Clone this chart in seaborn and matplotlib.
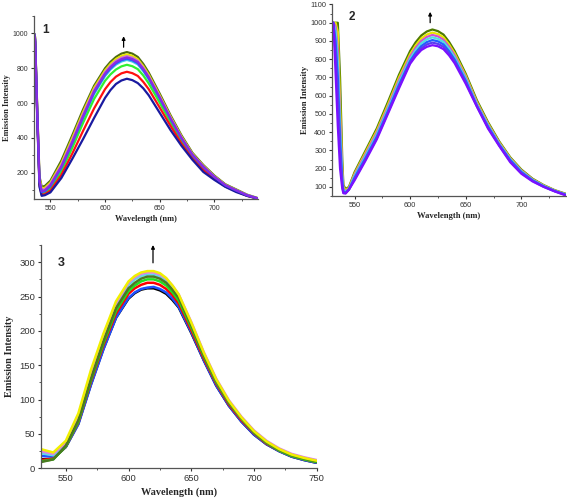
import matplotlib
matplotlib.use("Agg")
import matplotlib.pyplot as plt
import seaborn as sns
import pandas as pd
from matplotlib.ticker import MultipleLocator

# ---- panel 1 data ----
p1_wl = [535, 536, 538, 540, 542, 545, 550, 560, 570, 580, 590, 600, 605, 610, 615, 620,
         625, 630, 635, 640, 650, 660, 670, 680, 690, 700, 710, 720, 730, 740]
p1_olive = [1000, 980, 560, 180, 120, 125, 155, 270, 415, 565, 700, 800, 837, 865, 884, 893, 884, 865, 825, 775, 655, 530, 415, 315, 245, 185, 135, 105, 75, 55]
p1_yellow = [1000, 975, 550, 170, 110, 115, 145, 255, 400, 550, 688, 788, 825, 853, 871, 880, 871, 852, 812, 763, 645, 522, 408, 310, 240, 181, 132, 102, 73, 54]
p1_pink = [1000, 970, 545, 160, 102, 107, 137, 245, 388, 538, 677, 778, 815, 843, 861, 870, 861, 843, 804, 755, 638, 516, 403, 306, 237, 179, 130, 100, 72, 53]
p1_violet = [1000, 970, 540, 155, 95, 100, 130, 237, 378, 528, 668, 770, 807, 835, 853, 862, 853, 836, 797, 749, 634, 513, 401, 305, 236, 178, 130, 100, 72, 53]
p1_blue = [1000, 965, 535, 150, 90, 95, 124, 230, 370, 520, 660, 763, 800, 828, 846, 855, 846, 829, 790, 742, 628, 508, 397, 302, 233, 176, 128, 99, 71, 53]
p1_cyan = [1000, 965, 530, 145, 85, 90, 118, 222, 362, 512, 652, 755, 793, 821, 839, 848, 839, 822, 784, 736, 622, 504, 393, 299, 231, 174, 127, 98, 70, 52]
p1_green = [1000, 960, 525, 140, 80, 84, 110, 208, 343, 488, 624, 728, 765, 793, 811, 820, 812, 795, 759, 713, 603, 489, 382, 291, 224, 170, 124, 96, 69, 52]
p1_red = [1000, 955, 515, 130, 74, 78, 98, 188, 310, 442, 570, 680, 721, 752, 771, 780, 772, 756, 722, 680, 575, 469, 368, 282, 216, 166, 122, 94, 68, 52]
p1_navy = [1000, 950, 500, 120, 68, 72, 88, 170, 280, 395, 515, 630, 675, 710, 730, 740, 732, 715, 685, 645, 545, 445, 355, 275, 205, 160, 120, 90, 68, 52]

# ---- panel 2 data ----
p2_wl = [530, 531, 533, 535, 537, 539, 540, 542, 545, 550, 560, 570, 580, 590, 600, 605,
         610, 615, 620, 625, 630, 635, 640, 650, 660, 670, 680, 690, 700, 710, 720, 730, 740]
p2_olive = [1000, 1000, 1000, 1000, 700, 250, 110, 88, 100, 180, 300, 420, 565, 715, 845, 893, 930, 952, 963, 954, 935, 895, 845, 720, 575, 455, 350, 262, 195, 145, 110, 82, 62]
p2_yellow = [1000, 1000, 1000, 950, 560, 200, 100, 82, 95, 172, 290, 408, 550, 700, 828, 876, 914, 935, 946, 938, 920, 881, 832, 710, 566, 448, 345, 258, 191, 142, 108, 80, 60]
p2_magenta = [1000, 1000, 980, 850, 480, 170, 90, 76, 90, 165, 280, 397, 537, 686, 815, 863, 900, 922, 933, 925, 907, 869, 821, 701, 559, 442, 340, 254, 188, 140, 106, 79, 59]
p2_cyan = [1000, 1000, 950, 780, 420, 150, 82, 72, 88, 158, 270, 386, 526, 673, 802, 850, 887, 909, 920, 912, 895, 857, 810, 692, 552, 437, 336, 251, 185, 138, 105, 78, 58]
p2_blue = [1000, 1000, 900, 700, 360, 130, 75, 68, 86, 150, 260, 375, 515, 660, 790, 836, 872, 894, 905, 898, 881, 844, 798, 682, 545, 431, 332, 247, 181, 136, 103, 77, 57]
p2_violet = [1000, 1000, 820, 600, 300, 115, 68, 65, 85, 142, 252, 367, 507, 650, 782, 826, 860, 881, 891, 884, 868, 833, 788, 673, 542, 425, 328, 240, 176, 133, 101, 76, 55]
p2_purple = [1000, 1000, 720, 430, 200, 90, 65, 64, 85, 135, 245, 360, 500, 640, 775, 817, 850, 868, 877, 871, 855, 821, 778, 665, 540, 420, 325, 235, 172, 130, 100, 75, 53]

# ---- panel 3 data ----
p3_wl = [530, 540, 550, 560, 570, 580, 590, 600, 605, 610, 615, 620, 625, 630, 635, 640,
         650, 660, 670, 680, 690, 700, 710, 720, 730, 740, 750]
p3_yellow = [28, 23, 40, 80, 143, 196, 243, 272, 280, 285, 287, 287, 284, 277, 266, 253, 212, 168, 129, 98, 74, 54, 39, 28, 20, 15, 11]
p3_pink = [25, 21, 37, 77, 139, 193, 240, 270, 278, 283, 285, 285, 282, 276, 266, 253, 213, 169, 130, 99, 75, 55, 40, 29, 21, 16, 12]
p3_cyan = [22, 19, 35, 75, 137, 190, 238, 267, 275, 280, 282, 282, 279, 273, 263, 250, 210, 167, 128, 97, 73, 54, 39, 28, 20, 15, 11]
p3_olive = [9, 13, 33, 70, 130, 185, 233, 262, 270, 276, 279, 279, 276, 270, 260, 248, 208, 165, 127, 96, 73, 53, 38, 27, 19, 14, 10]
p3_green = [10, 13, 32, 68, 128, 182, 229, 258, 266, 272, 275, 275, 272, 266, 256, 244, 205, 163, 125, 95, 72, 52, 37, 26, 18, 13, 9]
p3_red = [12, 14, 32, 67, 126, 179, 225, 254, 262, 267, 270, 270, 267, 261, 252, 240, 201, 160, 123, 93, 70, 51, 36, 26, 18, 13, 9]
p3_black = [13, 14, 31, 65, 122, 174, 219, 247, 255, 260, 262, 262, 259, 254, 245, 234, 197, 157, 120, 91, 68, 49, 35, 25, 17, 12, 8]
p3_blue = [18, 17, 31, 64, 121, 173, 219, 248, 256, 261, 263, 264, 261, 256, 247, 235, 198, 157, 120, 91, 68, 49, 35, 25, 17, 12, 8]

sns.set_style("ticks")
plt.rcParams["font.family"] = ["Liberation Sans", "DejaVu Sans"]


def to_long(wl, series):
    rows = []
    for name, vals in series.items():
        for w, v in zip(wl, vals):
            rows.append({"wl": w, "I": v, "curve": name})
    return pd.DataFrame(rows)


def draw_panel(ax, df, palette, order, lw):
    sns.lineplot(data=df, x="wl", y="I", hue="curve", hue_order=order,
                 palette=palette, estimator=None, sort=False, legend=False,
                 linewidth=lw, ax=ax)
    for line in ax.get_lines():
        line.set_solid_joinstyle("round")
    sns.despine(ax=ax)
    for s in ["left", "bottom"]:
        ax.spines[s].set_color("#555555")
        ax.spines[s].set_linewidth(0.9)


def style_ticks(ax, fs, lab_fs, ylab_x, xlab_y):
    ax.tick_params(which="major", direction="out", length=2.5, width=0.8,
                   pad=1.5, labelsize=fs, colors="#333333")
    ax.tick_params(which="minor", direction="out", length=1.5, width=0.7,
                   colors="#555555")
    ax.set_xlabel("Wavelength (nm)", fontsize=lab_fs, fontweight="bold",
                  family="Liberation Serif")
    ax.set_ylabel("Emission Intensity", fontsize=lab_fs, fontweight="bold",
                  family="Liberation Serif")
    ax.yaxis.set_label_coords(ylab_x, 0.5)
    ax.xaxis.set_label_coords(0.5, xlab_y)


fig = plt.figure(figsize=(5.67, 5.0), dpi=100)

# panel 1
ax1 = fig.add_axes([0.0600, 0.602, 0.395, 0.366])
df1 = to_long(p1_wl, {"olive": p1_olive, "yellow": p1_yellow, "pink": p1_pink,
                      "violet": p1_violet, "blue": p1_blue, "cyan": p1_cyan,
                      "green": p1_green, "red": p1_red, "navy": p1_navy})
pal1 = {"olive": "#4e6b10", "yellow": "#e8e800", "pink": "#d070d0",
        "violet": "#8a2be2", "blue": "#3050ff", "cyan": "#40c8e8",
        "green": "#30f030", "red": "#ff1010", "navy": "#1a1aa0"}
draw_panel(ax1, df1, pal1, ["olive", "yellow", "pink", "cyan", "green",
                            "red", "navy", "blue", "violet"], 1.6)
ax1.set_xlim(535, 740)
ax1.set_ylim(50, 1100)
ax1.set_xticks([550, 600, 650, 700])
ax1.set_yticks([200, 400, 600, 800, 1000])
ax1.xaxis.set_minor_locator(MultipleLocator(25))
ax1.yaxis.set_minor_locator(MultipleLocator(100))
style_ticks(ax1, 5.0, 6.0, -0.105, -0.085)
ax1.text(0.035, 0.925, "1", transform=ax1.transAxes, fontsize=8.5,
         fontweight="bold", va="center", ha="left")
ax1.annotate("", xy=(617, 1000), xytext=(617, 905),
             arrowprops=dict(arrowstyle="-|>", color="black", lw=0.9,
                             mutation_scale=5))

# panel 2
ax2 = fig.add_axes([0.586, 0.608, 0.412, 0.383])
df2 = to_long(p2_wl, {"olive": p2_olive, "yellow": p2_yellow,
                      "magenta": p2_magenta, "cyan": p2_cyan, "blue": p2_blue,
                      "violet": p2_violet, "purple": p2_purple})
pal2 = {"olive": "#4e7a00", "yellow": "#e6e600", "magenta": "#d050d0",
        "cyan": "#50e0e0", "blue": "#2060ff", "violet": "#5a3cf0",
        "purple": "#7a10ff"}
draw_panel(ax2, df2, pal2, ["olive", "yellow", "magenta", "cyan", "blue",
                            "violet", "purple"], 1.6)
ax2.set_xlim(530, 740)
ax2.set_ylim(50, 1100)
ax2.set_xticks([550, 600, 650, 700])
ax2.set_yticks(list(range(100, 1101, 100)))
ax2.xaxis.set_minor_locator(MultipleLocator(25))
ax2.yaxis.set_minor_locator(MultipleLocator(50))
style_ticks(ax2, 5.3, 6.2, -0.10, -0.085)
ax2.text(0.068, 0.935, "2", transform=ax2.transAxes, fontsize=8.5,
         fontweight="bold", va="center", ha="left")
ax2.annotate("", xy=(618, 1075), xytext=(618, 985),
             arrowprops=dict(arrowstyle="-|>", color="black", lw=0.9,
                             mutation_scale=5))

# panel 3
ax3 = fig.add_axes([0.0718, 0.0634, 0.4868, 0.4466])
df3 = to_long(p3_wl, {"blue": p3_blue, "black": p3_black, "red": p3_red,
                      "green": p3_green, "olive": p3_olive, "cyan": p3_cyan,
                      "pink": p3_pink, "yellow": p3_yellow})
pal3 = {"yellow": "#f0f000", "pink": "#e080e0", "cyan": "#60d8e8",
        "olive": "#4a7a20", "green": "#20e020", "red": "#ff0000",
        "black": "#000000", "blue": "#1e50ff"}
draw_panel(ax3, df3, pal3, ["black", "blue", "red", "green", "cyan", "pink",
                            "olive", "yellow"], 1.8)
ax3.set_xlim(530, 750)
ax3.set_ylim(0, 325)
ax3.set_xticks([550, 600, 650, 700, 750])
ax3.set_yticks([0, 50, 100, 150, 200, 250, 300])
ax3.xaxis.set_minor_locator(MultipleLocator(25))
ax3.yaxis.set_minor_locator(MultipleLocator(25))
style_ticks(ax3, 6.8, 7.4, -0.095, -0.085)
ax3.text(0.06, 0.92, "3", transform=ax3.transAxes, fontsize=9,
         fontweight="bold", va="center", ha="left")
ax3.annotate("", xy=(619.5, 329), xytext=(619.5, 295), annotation_clip=False,
             arrowprops=dict(arrowstyle="-|>", color="black", lw=0.9,
                             mutation_scale=5))

fig.savefig("out.png", dpi=100)
